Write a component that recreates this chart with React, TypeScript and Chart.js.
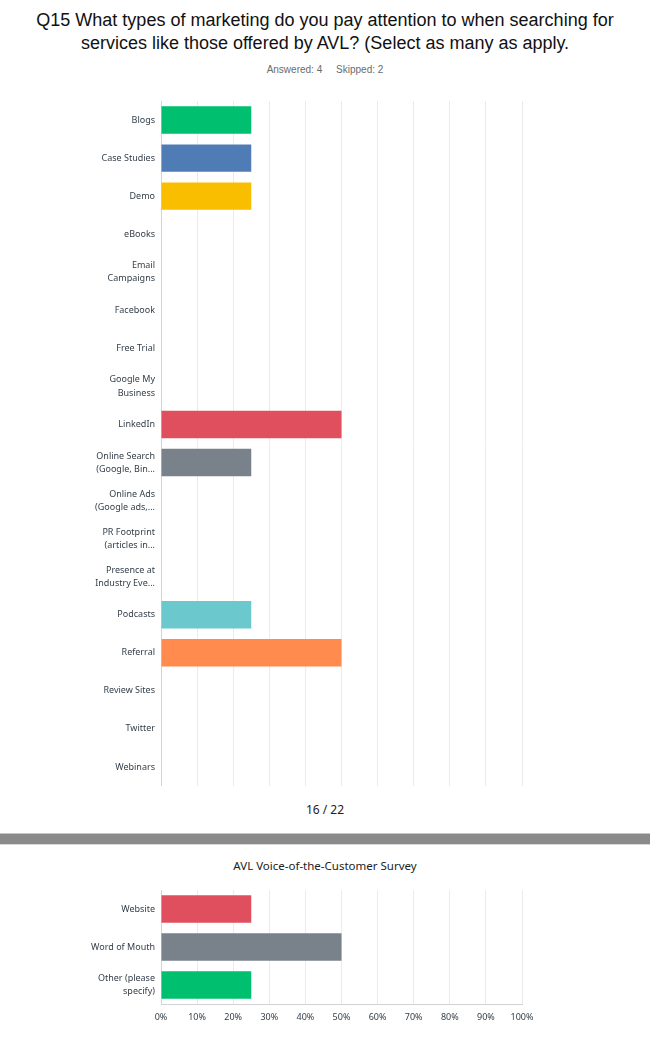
import React, { useEffect, useRef } from "react";
import { Chart, registerables } from "chart.js";

Chart.register(...registerables);

const titleLines = [
  "Q15 What types of marketing do you pay attention to when searching for",
  "services like those offered by AVL? (Select as many as apply.",
];
const answeredText = "Answered: 4";
const skippedText = "Skipped: 2";
const pageText = "16 / 22";
const surveyName = "AVL Voice-of-the-Customer Survey";

const categoriesA: (string | string[])[] = [
  "Blogs",
  "Case Studies",
  "Demo",
  "eBooks",
  ["Email", "Campaigns"],
  "Facebook",
  "Free Trial",
  ["Google My", "Business"],
  "LinkedIn",
  ["Online Search", "(Google, Bin..."],
  ["Online Ads", "(Google ads,..."],
  ["PR Footprint", "(articles in..."],
  ["Presence at", "Industry Eve..."],
  "Podcasts",
  "Referral",
  "Review Sites",
  "Twitter",
  "Webinars",
];
const valuesA = [25, 25, 25, 0, 0, 0, 0, 0, 50, 25, 0, 0, 0, 25, 50, 0, 0, 0];
const colorsA = [
  "#00bf6f", "#507cb6", "#f9be00", "#6bc8cd", "#ff8b4f", "#7d5e90", "#d25f90", "#b4c94c",
  "#df4f5e", "#79828a", "#00bf6f", "#507cb6", "#f9be00", "#6bc8cd", "#ff8b4f", "#7d5e90",
  "#d25f90", "#b4c94c",
];

const categoriesB: (string | string[])[] = ["Website", "Word of Mouth", ["Other (please", "specify)"]];
const valuesB = [25, 50, 25];
const colorsB = ["#df4f5e", "#79828a", "#00bf6f"];

const xTicks = [0, 10, 20, 30, 40, 50, 60, 70, 80, 90, 100];

const LABEL_FONT = { family: "'Noto Sans', sans-serif", size: 9, lineHeight: 1.45 };
const TICK_FONT = { family: "'Noto Sans', sans-serif", size: 9 };
const LABEL_COLOR = "#333e48";

function makeOptions(showXTicks: boolean, xAxisHeight: number): any {
  return {
    indexAxis: "y",
    animation: false,
    responsive: false,
    maintainAspectRatio: false,
    layout: { padding: { left: 0, right: 128, top: 0, bottom: 0 } },
    plugins: { legend: { display: false }, tooltip: { enabled: false } },
    scales: {
      x: {
        min: 0,
        max: 100,
        afterBuildTicks: (scale: any) => {
          scale.ticks = xTicks.map((v) => ({ value: v }));
        },
        afterFit: (scale: any) => {
          scale.height = xAxisHeight;
          scale.paddingLeft = 0;
          scale.paddingRight = 0;
        },
        grid: { display: true, color: "#ebebeb", lineWidth: 1, drawTicks: false },
        border: { display: showXTicks, color: "#d3d3d3" },
        ticks: {
          display: showXTicks,
          padding: 8,
          color: LABEL_COLOR,
          font: TICK_FONT,
          callback: (v: any) => v + "%",
        },
      },
      y: {
        afterFit: (scale: any) => {
          scale.width = 161;
          scale.paddingTop = 0;
          scale.paddingBottom = 0;
        },
        grid: { display: false, drawTicks: false },
        border: { display: true, color: "#d3d3d3" },
        ticks: { padding: 6, color: LABEL_COLOR, font: LABEL_FONT, autoSkip: false },
      },
    },
  };
}

function BarChart(props: {
  labels: (string | string[])[];
  values: number[];
  colors: string[];
  showXTicks: boolean;
  xAxisHeight: number;
  height: number;
  top: number;
}) {
  const ref = useRef<HTMLCanvasElement | null>(null);
  useEffect(() => {
    if (!ref.current) return;
    const chart = new Chart(ref.current, {
      type: "bar",
      data: {
        labels: props.labels as any,
        datasets: [
          {
            data: props.values,
            backgroundColor: props.colors,
            borderWidth: 0,
            barPercentage: 0.72,
            categoryPercentage: 1,
          },
        ],
      },
      options: makeOptions(props.showXTicks, props.xAxisHeight),
    });
    return () => chart.destroy();
  }, []);
  return (
    <canvas
      ref={ref}
      width={650}
      height={props.height}
      style={{ position: "absolute", left: 0, top: props.top, width: 650, height: props.height }}
    />
  );
}

export default function App() {
  return (
    <div
      style={{
        position: "absolute",
        left: 0,
        top: 0,
        width: 650,
        height: 1044,
        background: "#fff",
        overflow: "hidden",
      }}
    >
      <div
        style={{
          position: "absolute",
          top: 9,
          left: 0,
          width: 650,
          textAlign: "center",
          fontFamily: "'Liberation Sans', Arial, sans-serif",
          fontSize: 18,
          lineHeight: "23px",
          color: "#111",
        }}
      >
        {titleLines.map((l, i) => (
          <div key={i}>{l}</div>
        ))}
      </div>
      <div
        style={{
          position: "absolute",
          top: 64,
          left: 0,
          width: 650,
          textAlign: "center",
          fontFamily: "'Liberation Sans', Arial, sans-serif",
          fontSize: 10,
          lineHeight: "12px",
          color: "#6b6b6b",
          whiteSpace: "pre",
        }}
      >
        {answeredText + "     " + skippedText}
      </div>
      <BarChart
        labels={categoriesA}
        values={valuesA}
        colors={colorsA}
        showXTicks={false}
        xAxisHeight={0}
        height={685}
        top={101}
      />
      <div
        style={{
          position: "absolute",
          top: 802,
          left: 0,
          width: 650,
          textAlign: "center",
          fontFamily: "'Noto Sans', sans-serif",
          fontSize: 12,
          lineHeight: "16px",
          color: "#222",
        }}
      >
        {pageText}
      </div>
      <div
        style={{
          position: "absolute",
          top: 833,
          left: 0,
          width: 650,
          height: 10,
          background: "#8a8a8a",
          borderTop: "1px solid #c4c4c4",
          borderBottom: "1px solid #d8d8d8",
        }}
      />
      <div
        style={{
          position: "absolute",
          top: 858,
          left: 0,
          width: 650,
          textAlign: "center",
          fontFamily: "'Noto Sans', sans-serif",
          fontSize: 11.5,
          lineHeight: "16px",
          color: "#222",
        }}
      >
        {surveyName}
      </div>
      <BarChart
        labels={categoriesB}
        values={valuesB}
        colors={colorsB}
        showXTicks={true}
        xAxisHeight={26}
        height={140}
        top={890}
      />
    </div>
  );
}
